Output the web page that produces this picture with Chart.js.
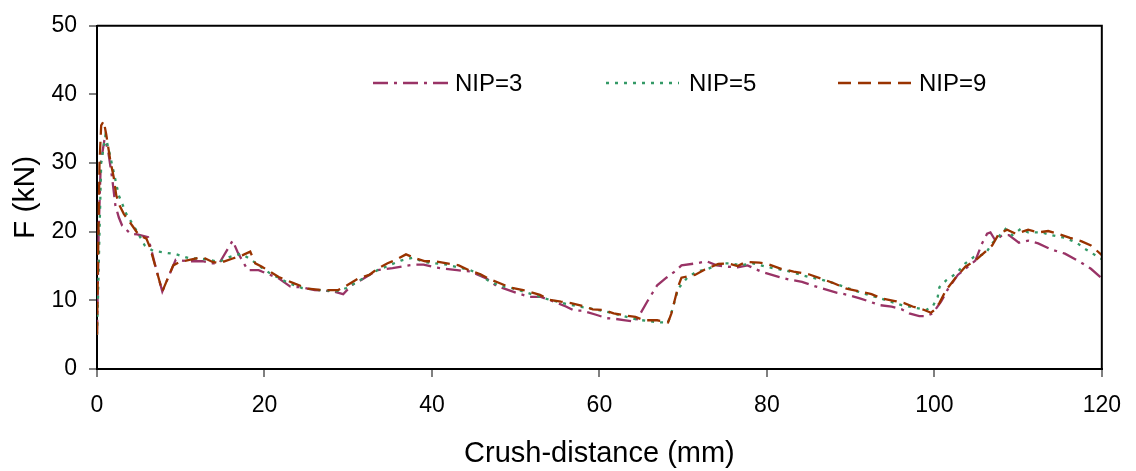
<!DOCTYPE html>
<html>
<head>
<meta charset="utf-8">
<script src="https://cdn.jsdelivr.net/npm/chart.js@4/dist/chart.umd.min.js"></script>
<style>
  html, body { margin: 0; padding: 0; background: #fff; }
  #wrap { width: 1136px; height: 471px; }
</style>
</head>
<body>
<div id="wrap"><canvas id="c" width="1136" height="471"></canvas></div>
<script>
const seriesNames = ['NIP=3', 'NIP=5', 'NIP=9'];
const xTicks = [0, 20, 40, 60, 80, 100, 120];
const yTicks = [0, 10, 20, 30, 40, 50];

const nip3X = [0, 0.2, 0.45, 0.9, 1.3, 1.8, 2.2, 2.6, 3, 4, 4.8, 6.1, 7.1, 7.8, 9.4, 10.8, 12.6, 13.8, 14.6, 16.2, 16.8, 18, 19.3, 21.7, 23.1, 24.5, 26, 28.2, 29.4, 30.4, 31.6, 33.5, 35.3, 36.7, 37.9, 39, 40.4, 41.6, 43, 44.6, 46.5, 47.7, 48.9, 50.3, 51.7, 53, 54.2, 56, 57, 58, 59.6, 60.9, 61.9, 63.1, 64.3, 64.9, 65.7, 66.9, 68, 69, 69.8, 71.6, 72.8, 74, 75.3, 76.5, 77.7, 79.3, 80.1, 81.5, 82.8, 84.2, 85.6, 87, 88.4, 89.7, 91.1, 92.3, 93.5, 94.9, 96.1, 97, 98.2, 99, 99.8, 100.8, 101.6, 102.8, 103.7, 104.9, 105.7, 106.3, 106.7, 107.3, 108.1, 108.9, 110.1, 111.2, 112.4, 114, 115.6, 117.4, 118.7, 120];
const nip3Y = [5, 20, 30, 33.5, 32, 27.9, 23.8, 22.1, 20.9, 19.7, 19.6, 19.2, 14.4, 11.3, 15.9, 15.7, 15.7, 15.4, 15.4, 18.7, 17, 14.4, 14.4, 13.2, 12, 11.9, 11.5, 11.3, 10.9, 12.2, 13, 14.4, 14.7, 15, 15.2, 15.2, 14.8, 14.6, 14.4, 14.2, 13.2, 12.1, 11.6, 11, 10.5, 10.5, 10, 9.1, 8.5, 8.5, 7.9, 7.4, 7.3, 7.1, 6.9, 8.1, 9.8, 12.2, 13.3, 14.2, 15.1, 15.4, 15.7, 15.1, 14.9, 14.8, 15.1, 14.2, 13.9, 13.4, 13, 12.7, 12.1, 11.6, 11.1, 10.8, 10.3, 9.8, 9.3, 9.1, 8.7, 8.1, 7.7, 7.7, 8.1, 9.8, 11.6, 13.7, 14.6, 15.8, 18.3, 19.7, 19.9, 18.7, 19.5, 19.5, 18.4, 18.7, 18.3, 17.4, 16.8, 15.6, 14.6, 13.2];

const nip5X = [0, 0.15, 0.3, 0.5, 1.0, 1.4, 2.6, 3.5, 4.7, 5.7, 6.7, 7.9, 9.5, 11.1, 12.2, 13.4, 14.6, 15.8, 17.2, 18.2, 19.3, 20.7, 22.9, 24.5, 26.5, 28.5, 29.8, 31.5, 33.5, 35.1, 36.3, 37.7, 39, 41.8, 44.6, 45.8, 46.7, 48.1, 49.5, 50.9, 52.9, 54, 56, 58, 60.3, 62, 64.5, 67, 68.2, 68.7, 69.4, 70.5, 71.6, 73, 74.5, 75.7, 76.9, 78.3, 79.9, 82.4, 85, 86.6, 88, 90.3, 92.1, 93.3, 96.1, 97.4, 99, 99.8, 100.4, 100.6, 101.4, 102.6, 103.7, 104.7, 106.1, 106.9, 107.7, 108.5, 109.3, 110.3, 111.2, 112.8, 114, 115.6, 117, 118, 120];
const nip5Y = [5, 12, 20, 30, 34, 32, 25.3, 22.6, 20.2, 18, 17.2, 17, 16.7, 16.1, 16.1, 15.9, 15.6, 16.3, 16.8, 16.1, 15.1, 13.9, 12.5, 11.8, 11.5, 11.3, 11.8, 13, 14.4, 15.2, 15.8, 16.2, 15.6, 15.2, 14.4, 13.7, 12.9, 12.1, 11.8, 11.3, 10.5, 10.1, 9.5, 9, 8.5, 8, 7.2, 6.8, 6.8, 8.6, 11.7, 13.3, 14.2, 14.6, 15.4, 15.4, 15.1, 15.4, 14.9, 14.3, 13.4, 13, 12.5, 11.5, 10.8, 10.4, 9.3, 9, 8.6, 9.1, 10.5, 11.9, 12.9, 13.9, 15.4, 16.3, 16.8, 18.3, 19.3, 20.4, 19.5, 20.4, 19.9, 19.9, 19.5, 19.1, 18.4, 17.5, 16];

const nip9X = [0, 0.15, 0.3, 0.5, 0.8, 1.1, 1.6, 2.0, 2.3, 2.7, 3.2, 4.2, 5.0, 5.9, 6.3, 7.1, 7.8, 9.1, 9.9, 12.6, 13.8, 14.6, 16.2, 17.4, 18.3, 18.9, 19.7, 21.7, 23.7, 25.2, 27, 28.8, 29.6, 31.2, 32.5, 33.5, 34.7, 35.7, 36.9, 38.1, 39.2, 40.4, 41.8, 43.2, 44.4, 45.8, 46.7, 47.9, 49.3, 50.9, 52.9, 54, 55.4, 56.6, 58, 59.2, 60.5, 61.7, 63.1, 64.3, 65.3, 66.9, 68.2, 68.6, 69.4, 69.8, 71.4, 72.6, 74.2, 75.3, 76.5, 77.5, 79.1, 80.1, 81.7, 83.2, 85, 86.4, 88, 89.5, 91.1, 92.5, 93.7, 95.3, 96.4, 97.4, 98.8, 99.6, 100, 100.6, 101.4, 102.6, 103.7, 104.9, 106.1, 106.9, 107.7, 108.7, 109.7, 110.3, 111.2, 112.4, 113.6, 114.8, 116.2, 117.6, 118.7, 120];
const nip9Y = [5, 18, 30, 35.5, 36.1, 34.2, 30.3, 27.9, 25.3, 23.8, 22.6, 20.9, 19.5, 19, 17.8, 14.4, 11.3, 15.1, 15.6, 16.3, 15.6, 15.4, 16.1, 16.6, 17.1, 15.4, 14.9, 13.4, 12.4, 11.7, 11.5, 11.5, 12, 13.2, 13.7, 14.6, 15.4, 15.9, 16.7, 16.1, 15.7, 15.7, 15.4, 15.1, 14.4, 13.8, 13.2, 12.6, 11.9, 11.5, 10.8, 10.1, 9.8, 9.6, 9.2, 8.7, 8.6, 8.1, 7.8, 7.6, 7.1, 7.1, 6.8, 8.1, 12, 13.3, 13.7, 14.5, 15.3, 15.4, 15, 15.6, 15.5, 15.3, 14.6, 14.2, 13.8, 13.2, 12.5, 11.7, 11.3, 10.9, 10.3, 9.9, 9.6, 9.1, 8.6, 8.2, 8.6, 9.6, 11.5, 13.4, 14.9, 15.8, 17.1, 18, 19.7, 20.3, 19.7, 19.9, 20.3, 19.9, 20.1, 19.7, 19.1, 18.6, 18, 16.6];

const FONT = '"Liberation Sans", Arial, sans-serif';
const pts = (xs, ys) => xs.map((x, i) => ({ x: x, y: ys[i] }));

const styles = [
  { color: '#993366', dash: [15, 6, 3, 6], width: 2.3 },
  { color: '#339966', dash: [3, 6], width: 2.3 },
  { color: '#993300', dash: [13, 7], width: 2.3 }
];
const seriesData = [pts(nip3X, nip3Y), pts(nip5X, nip5Y), pts(nip9X, nip9Y)];

const datasets = seriesNames.map((name, i) => ({
  label: name,
  data: seriesData[i],
  borderColor: styles[i].color,
  backgroundColor: styles[i].color,
  borderDash: styles[i].dash,
  borderWidth: styles[i].width,
  pointRadius: 0,
  tension: 0,
  fill: false,
  order: 2 - i
}));

const frameAndLegend = {
  id: 'frameAndLegend',
  afterDraw(chart) {
    const ctx = chart.ctx;
    const a = chart.chartArea;
    ctx.save();
    ctx.strokeStyle = '#000';
    ctx.lineWidth = 2;
    ctx.beginPath();
    ctx.moveTo(a.left, a.top);
    ctx.lineTo(a.right, a.top);
    ctx.lineTo(a.right, a.bottom);
    ctx.stroke();
    // legend
    const items = [
      { x1: 373, x2: 451, tx: 455 },
      { x1: 606, x2: 679, tx: 689 },
      { x1: 838, x2: 915, tx: 919 }
    ];
    const ly = 83;
    ctx.font = '24px ' + FONT;
    ctx.textBaseline = 'middle';
    ctx.textAlign = 'left';
    chart.data.datasets.forEach((ds, i) => {
      const it = items[i];
      ctx.strokeStyle = ds.borderColor;
      ctx.lineWidth = 2.5;
      ctx.setLineDash(ds.borderDash);
      ctx.beginPath();
      ctx.moveTo(it.x1, ly);
      ctx.lineTo(it.x2, ly);
      ctx.stroke();
      ctx.setLineDash([]);
      ctx.fillStyle = '#000';
      ctx.fillText(ds.label, it.tx, ly + 1);
    });
    ctx.restore();
  }
};

new Chart(document.getElementById('c'), {
  type: 'line',
  data: { datasets: datasets },
  options: {
    responsive: false,
    animation: false,
    events: [],
    layout: { padding: { top: 24, right: 27, left: 0, bottom: 0 } },
    plugins: { legend: { display: false }, tooltip: { enabled: false } },
    scales: {
      x: {
        type: 'linear',
        min: 0, max: 120,
        afterFit(s) { s.height = 102; },
        afterBuildTicks(s) { s.ticks = xTicks.map(v => ({ value: v })); },
        ticks: { color: '#000', font: { family: FONT, size: 23 }, padding: 15, maxRotation: 0 },
        grid: { drawOnChartArea: false, drawTicks: true, tickLength: 8, color: '#808080', lineWidth: 2 },
        border: { display: true, color: '#000', width: 2 },
        title: { display: true, text: 'Crush-distance (mm)', color: '#000', font: { family: FONT, size: 29 }, padding: { top: 6, bottom: 0 } }
      },
      y: {
        min: 0, max: 50,
        afterFit(s) { s.width = 97; },
        afterBuildTicks(s) { s.ticks = yTicks.map(v => ({ value: v })); },
        ticks: { color: '#000', font: { family: FONT, size: 23 }, padding: 12 },
        grid: { drawOnChartArea: false, drawTicks: true, tickLength: 8, color: '#808080', lineWidth: 2 },
        border: { display: true, color: '#000', width: 2 },
        title: { display: true, text: 'F (kN)', color: '#000', font: { family: FONT, size: 30 }, padding: { top: 8, bottom: 0 } }
      }
    }
  },
  plugins: [frameAndLegend]
});
</script>
</body>
</html>
